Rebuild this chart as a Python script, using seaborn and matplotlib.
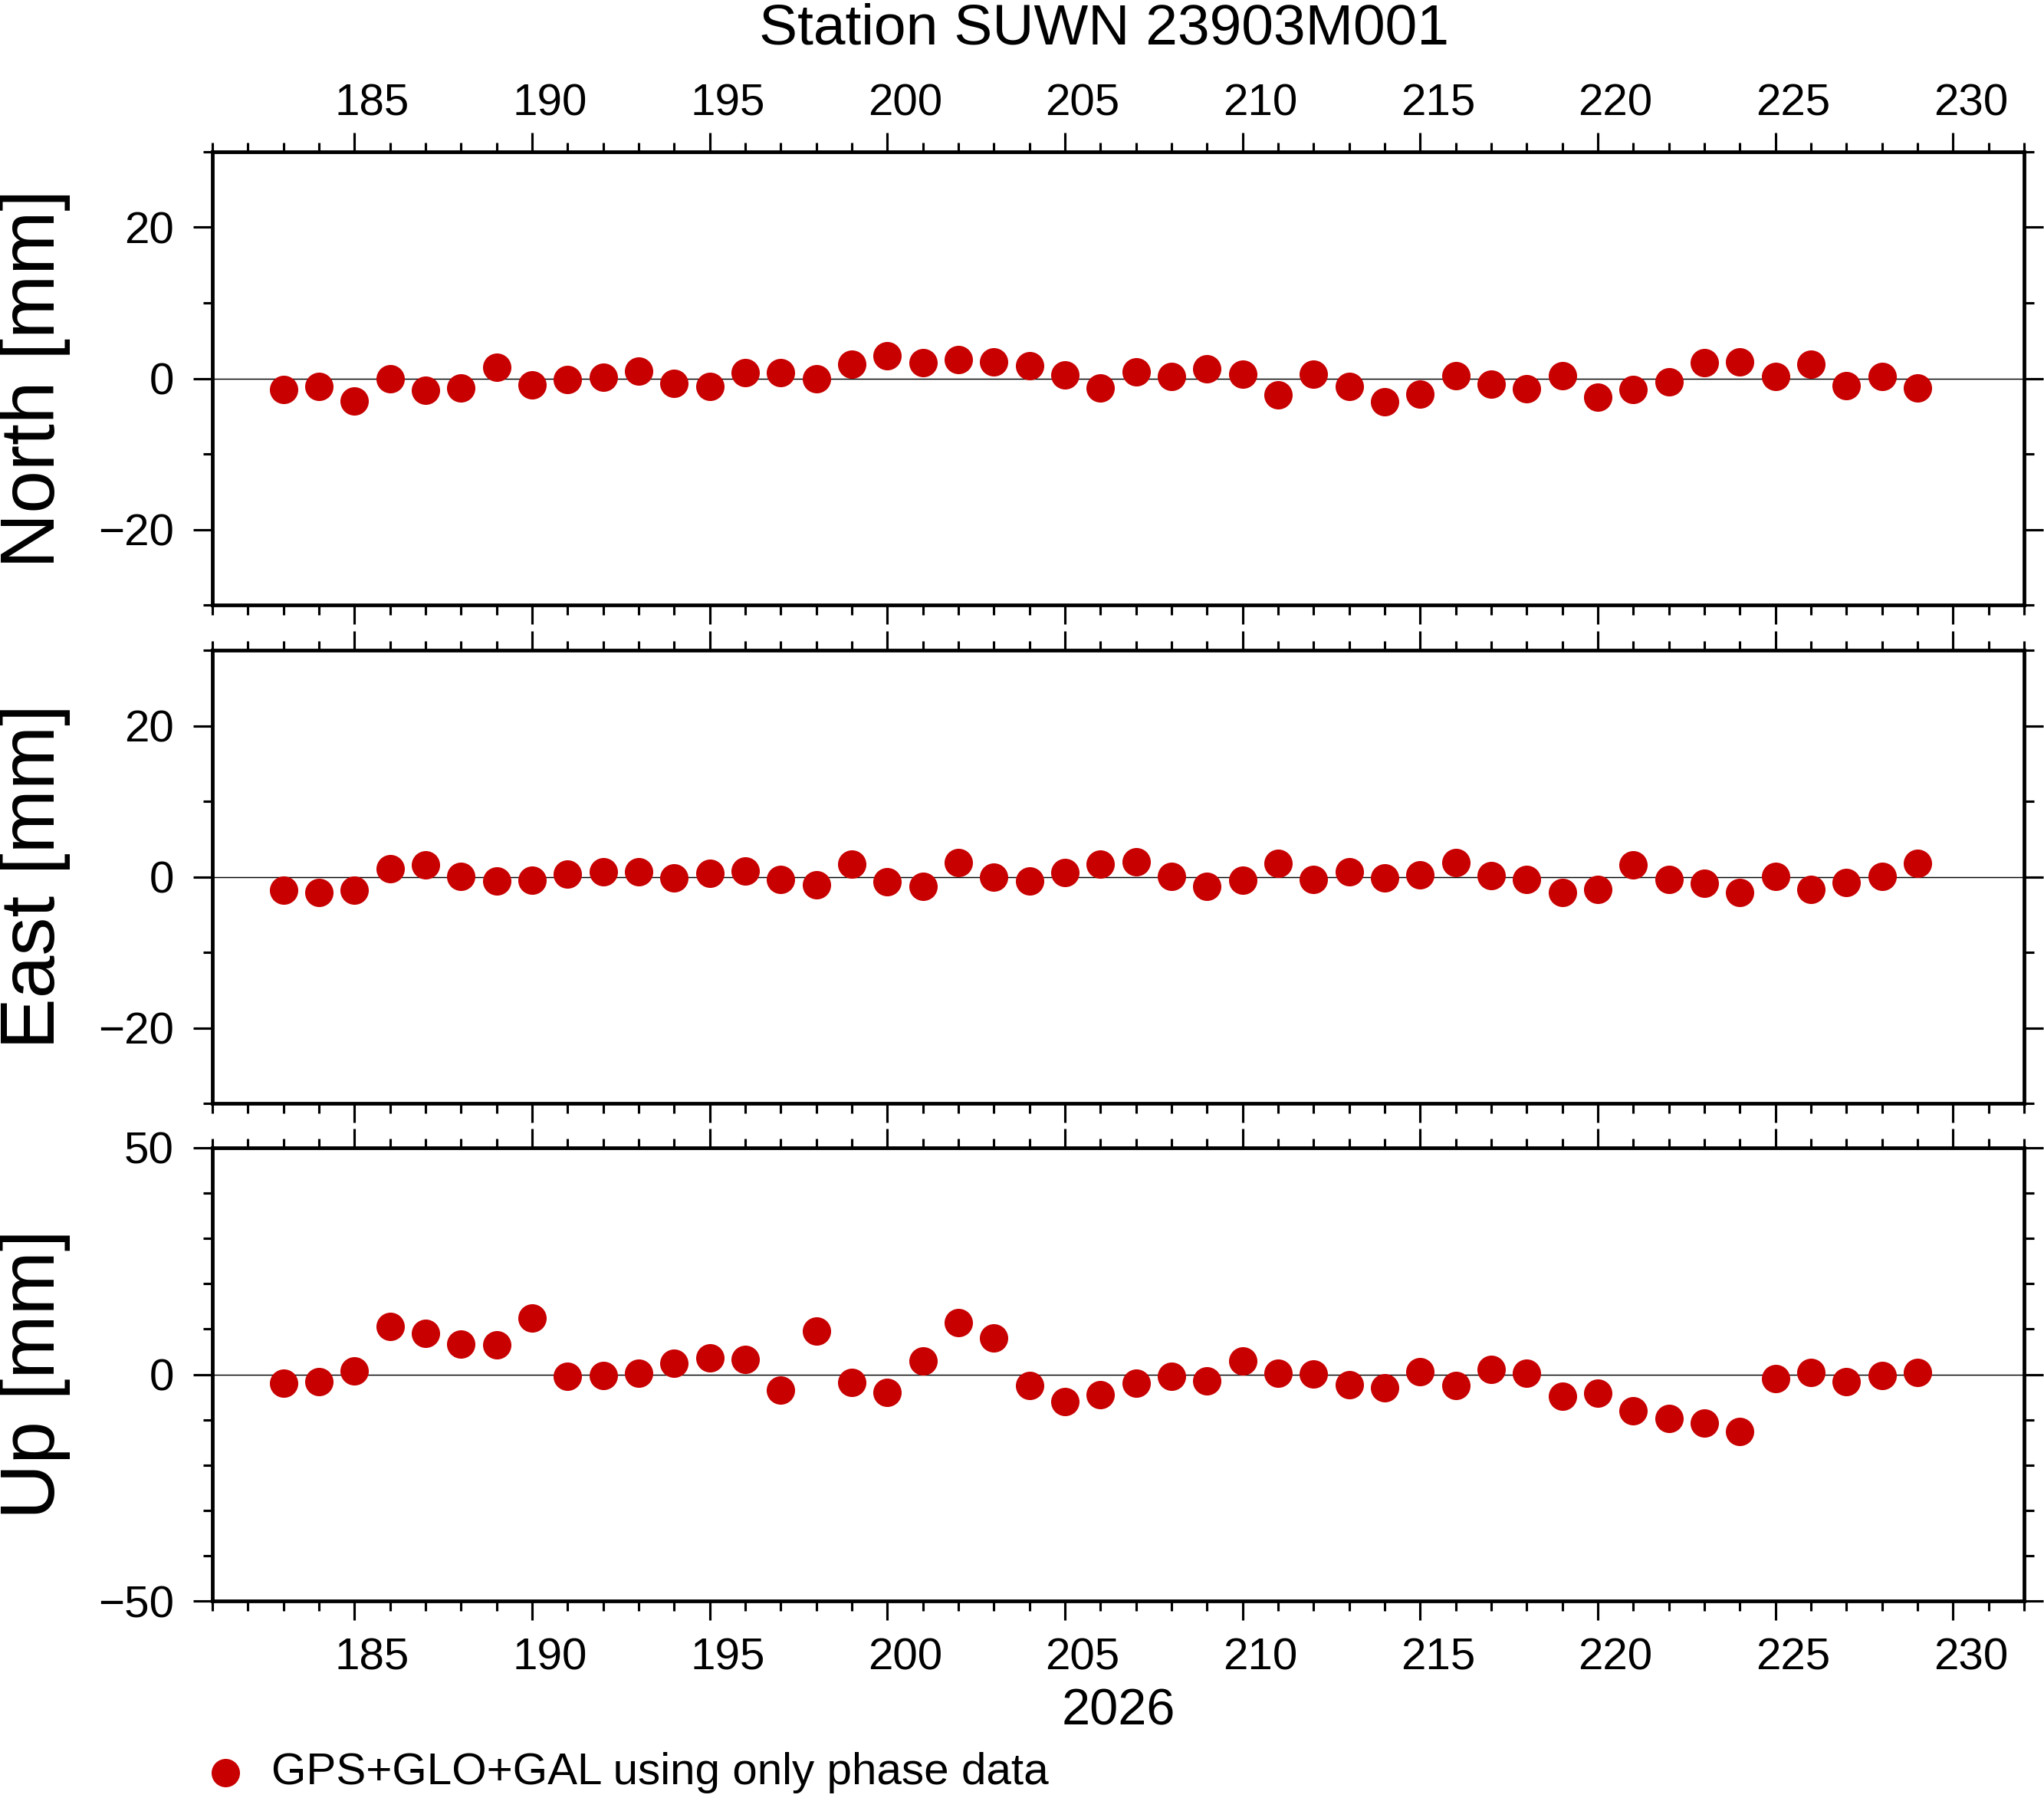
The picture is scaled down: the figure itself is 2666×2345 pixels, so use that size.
import matplotlib
matplotlib.use("Agg")
import matplotlib.pyplot as plt
import numpy as np
import pandas as pd
import seaborn as sns
from matplotlib.ticker import MultipleLocator, NullLocator

# ---------------- data ----------------
days = list(range(183, 230))
north = [-1.44, -1.11, -2.96, -0.02, -1.54, -1.23, 1.50, -0.83, -0.12, 0.19,
         1.00, -0.62, -1.03, 0.79, 0.79, -0.02, 1.91, 3.02, 2.11, 2.52,
         2.21, 1.71, 0.49, -1.23, 0.90, 0.29, 1.30, 0.59, -2.15, 0.59,
         -1.03, -3.06, -2.05, 0.39, -0.73, -1.33, 0.39, -2.45, -1.44, -0.42,
         2.11, 2.21, 0.29, 1.91, -0.93, 0.29, -1.23]
east = [-1.74, -2.05, -1.74, 1.10, 1.60, 0.08, -0.52, -0.42, 0.39, 0.69,
        0.69, -0.12, 0.49, 0.79, -0.32, -1.03, 1.71, -0.62, -1.23, 1.91,
        -0.02, -0.52, 0.59, 1.71, 2.01, 0.08, -1.23, -0.42, 1.81, -0.32,
        0.69, -0.12, 0.29, 1.91, 0.19, -0.32, -2.05, -1.64, 1.60, -0.32,
        -0.83, -2.05, 0.08, -1.64, -0.73, 0.08, 1.81]
up = [-1.89, -1.55, 0.82, 10.52, 9.11, 6.74, 6.57, 12.49, -0.37, -0.20,
      0.31, 2.51, 3.69, 3.36, -3.41, 9.62, -1.72, -3.92, 3.02, 11.48,
      8.12, -2.40, -5.95, -4.43, -1.89, -0.37, -1.38, 3.02, 0.31, 0.14,
      -2.23, -2.90, 0.65, -2.40, 1.16, 0.31, -4.77, -4.09, -7.98, -9.67,
      -10.69, -12.55, -0.87, 0.48, -1.55, -0.20, 0.48]

label_days = [185, 190, 195, 200, 205, 210, 215, 220, 225, 230]
day_labels = ["185", "190", "195", "200", "205", "210", "215", "220", "225", "230"]

components = ["North", "East", "Up"]
ylabels = ["North [mm]", "East [mm]", "Up [mm]"]
title = "Station SUWN 23903M001"
year_label = "2026"
series_label = "GPS+GLO+GAL using only phase data"

df = pd.DataFrame({"day": days, "North": north, "East": east, "Up": up})

# ---------------- style ----------------
sns.set_theme(style="ticks")
plt.rcParams["font.family"] = ["Liberation Sans", "DejaVu Sans"]
plt.rcParams["axes.unicode_minus"] = True
plt.rcParams["text.color"] = "black"
plt.rcParams["axes.labelcolor"] = "black"
plt.rcParams["xtick.color"] = "black"
plt.rcParams["ytick.color"] = "black"

RED = "#C80000"
W, H, DPI = 2666, 2345, 300
fig = plt.figure(figsize=(W / DPI, H / DPI), dpi=DPI, facecolor="white")

left = 277 / W
width = (2640 - 277) / W
tops = [198, 848, 1497]
ph = 591
ylims = [(-30, 30), (-30, 30), (-50, 50)]
ymaj = [20, 20, 50]
ymin = [10, 10, 10]

axes = []
for i, comp in enumerate(components):
    bottom = 1 - (tops[i] + ph) / H
    ax = fig.add_axes([left, bottom, width, ph / H])
    axes.append(ax)
    ax.axhline(0, color="black", lw=0.35, zorder=1)
    sns.scatterplot(data=df, x="day", y=comp, ax=ax, color=RED, s=79,
                    linewidth=0, zorder=3, legend=False,
                    label=series_label if i == 0 else None)
    ax.set_xlim(181, 232)
    ax.set_ylim(*ylims[i])
    ax.xaxis.set_major_locator(MultipleLocator(5))
    ax.xaxis.set_minor_locator(MultipleLocator(1))
    ax.yaxis.set_major_locator(MultipleLocator(ymaj[i]))
    ax.yaxis.set_minor_locator(MultipleLocator(ymin[i]))
    for s in ax.spines.values():
        s.set_visible(True)
        s.set_linewidth(1.15)
        s.set_color("black")
    ax.tick_params(axis="both", which="both", direction="out", top=True,
                   right=True, color="black", width=0.75, labelsize=14,
                   labelcolor="black")
    ax.tick_params(which="major", length=6)
    ax.tick_params(which="minor", length=3)
    ax.tick_params(axis="x", which="both", labeltop=False, labelbottom=False)
    ax.tick_params(axis="y", which="both", pad=6, labelleft=True,
                   labelright=False)
    ax.set_xlabel("")
    ax.set_ylabel(ylabels[i], fontsize=24, color="black")
    ax.yaxis.set_label_coords(-0.0783, 0.5)
    ax.grid(False)
    ax.set_facecolor("white")

    # day annotations centred on each day interval
    if i in (0, 2):
        sec = ax.secondary_xaxis("top" if i == 0 else "bottom")
        sec.set_xticks([d + 0.5 for d in label_days], labels=day_labels)
        sec.xaxis.set_minor_locator(NullLocator())
        sec.tick_params(axis="x", which="both", length=0, labelsize=14,
                        labelcolor="black", pad=(8.6 if i == 0 else 11.5))
        for s in sec.spines.values():
            s.set_visible(False)

axes[2].set_xlabel(year_label, fontsize=16, color="black")
axes[2].xaxis.label.set_va("baseline")
axes[2].xaxis.set_label_coords(0.5, (2088 - 2250) / ph)

fig.text(1440 / W, 1 - 57 / H, title, ha="center", va="baseline",
         fontsize=18, color="black")

handle = axes[0].collections[0]
leg = fig.legend(handles=[handle], labels=[series_label], loc="center left",
                 bbox_to_anchor=(265 / W, 1 - 2312 / H), frameon=False,
                 fontsize=14, handlelength=1.0, handletextpad=0.53,
                 borderpad=0, borderaxespad=0, scatterpoints=1,
                 labelcolor="black")

fig.savefig("out.png", dpi=DPI, facecolor="white")
